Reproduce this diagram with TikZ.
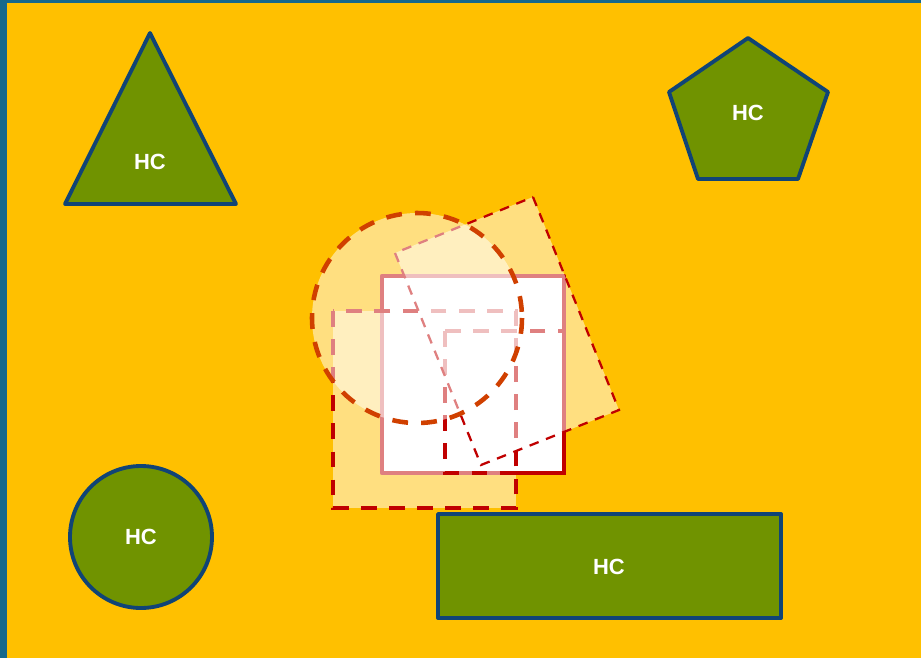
\documentclass[tikz,border=0pt]{standalone}
\usepackage{fontspec}
\setmainfont{Liberation Sans}
\definecolor{bgorange}{RGB}{255,192,0}
\definecolor{frameblue}{RGB}{22,104,140}
\definecolor{shapeblue}{RGB}{16,68,118}
\definecolor{shapegreen}{RGB}{112,147,0}
\definecolor{darkred}{RGB}{192,0,0}
\definecolor{rustred}{RGB}{208,64,0}
\tikzset{
  hcshape/.style={draw=shapeblue, fill=shapegreen, line width=2.2pt, line join=round},
  hclabel/.style={text=white, font=\bfseries\fontsize{12.5}{15}\selectfont},
  solidbox/.style={draw=darkred, fill=white, line width=2.6pt, line join=round},
  dashbox/.style={draw=darkred, line width=2.1pt, dash pattern=on 9pt off 7pt},
  tiltbox/.style={draw=darkred, line width=1.3pt, dash pattern=on 5.5pt off 4.5pt, fill=white, fill opacity=0.5},
  ringdash/.style={draw=rustred, line width=2.6pt, dash pattern=on 9pt off 7.5pt, fill=white, fill opacity=0.5}
}
\begin{document}
\begin{tikzpicture}[x=0.02cm, y=-0.02cm]
\useasboundingbox (0,0) rectangle (921,657);
\begin{scope}
\clip (0,0) rectangle (921,657);
\draw[line width=4pt, draw=frameblue, fill=bgorange] (3.5,-0.5) rectangle (960,700);
\end{scope}

\draw[hcshape] (150,33) -- (65,204) -- (236,204) -- cycle;
\node[hclabel] (tri) at (150,162) {HC};

\draw[hcshape] (748,38) -- (828,92) -- (798,179) -- (698,179) -- (669,92) -- cycle;
\node[hclabel] (pent) at (748,113) {HC};

\draw[hcshape] (141,537) circle [radius=71];
\node[hclabel] (disc) at (141,537) {HC};

\draw[hcshape] (438,514) rectangle (781,618);
\node[hclabel] (bar) at (609,567) {HC};

\begin{scope}
\draw[solidbox] (382,276) rectangle (564,473);
\draw[dashbox, fill=white, fill opacity=0.5] (333,311) rectangle (516,508);
\draw[dashbox] (445,331) rectangle (564,473);
\draw[tiltbox] (533,197) -- (619,410) -- (481,465) -- (395,253) -- cycle;
\draw[ringdash] (417,318) circle [radius=105];
\end{scope}
\end{tikzpicture}
\end{document}
